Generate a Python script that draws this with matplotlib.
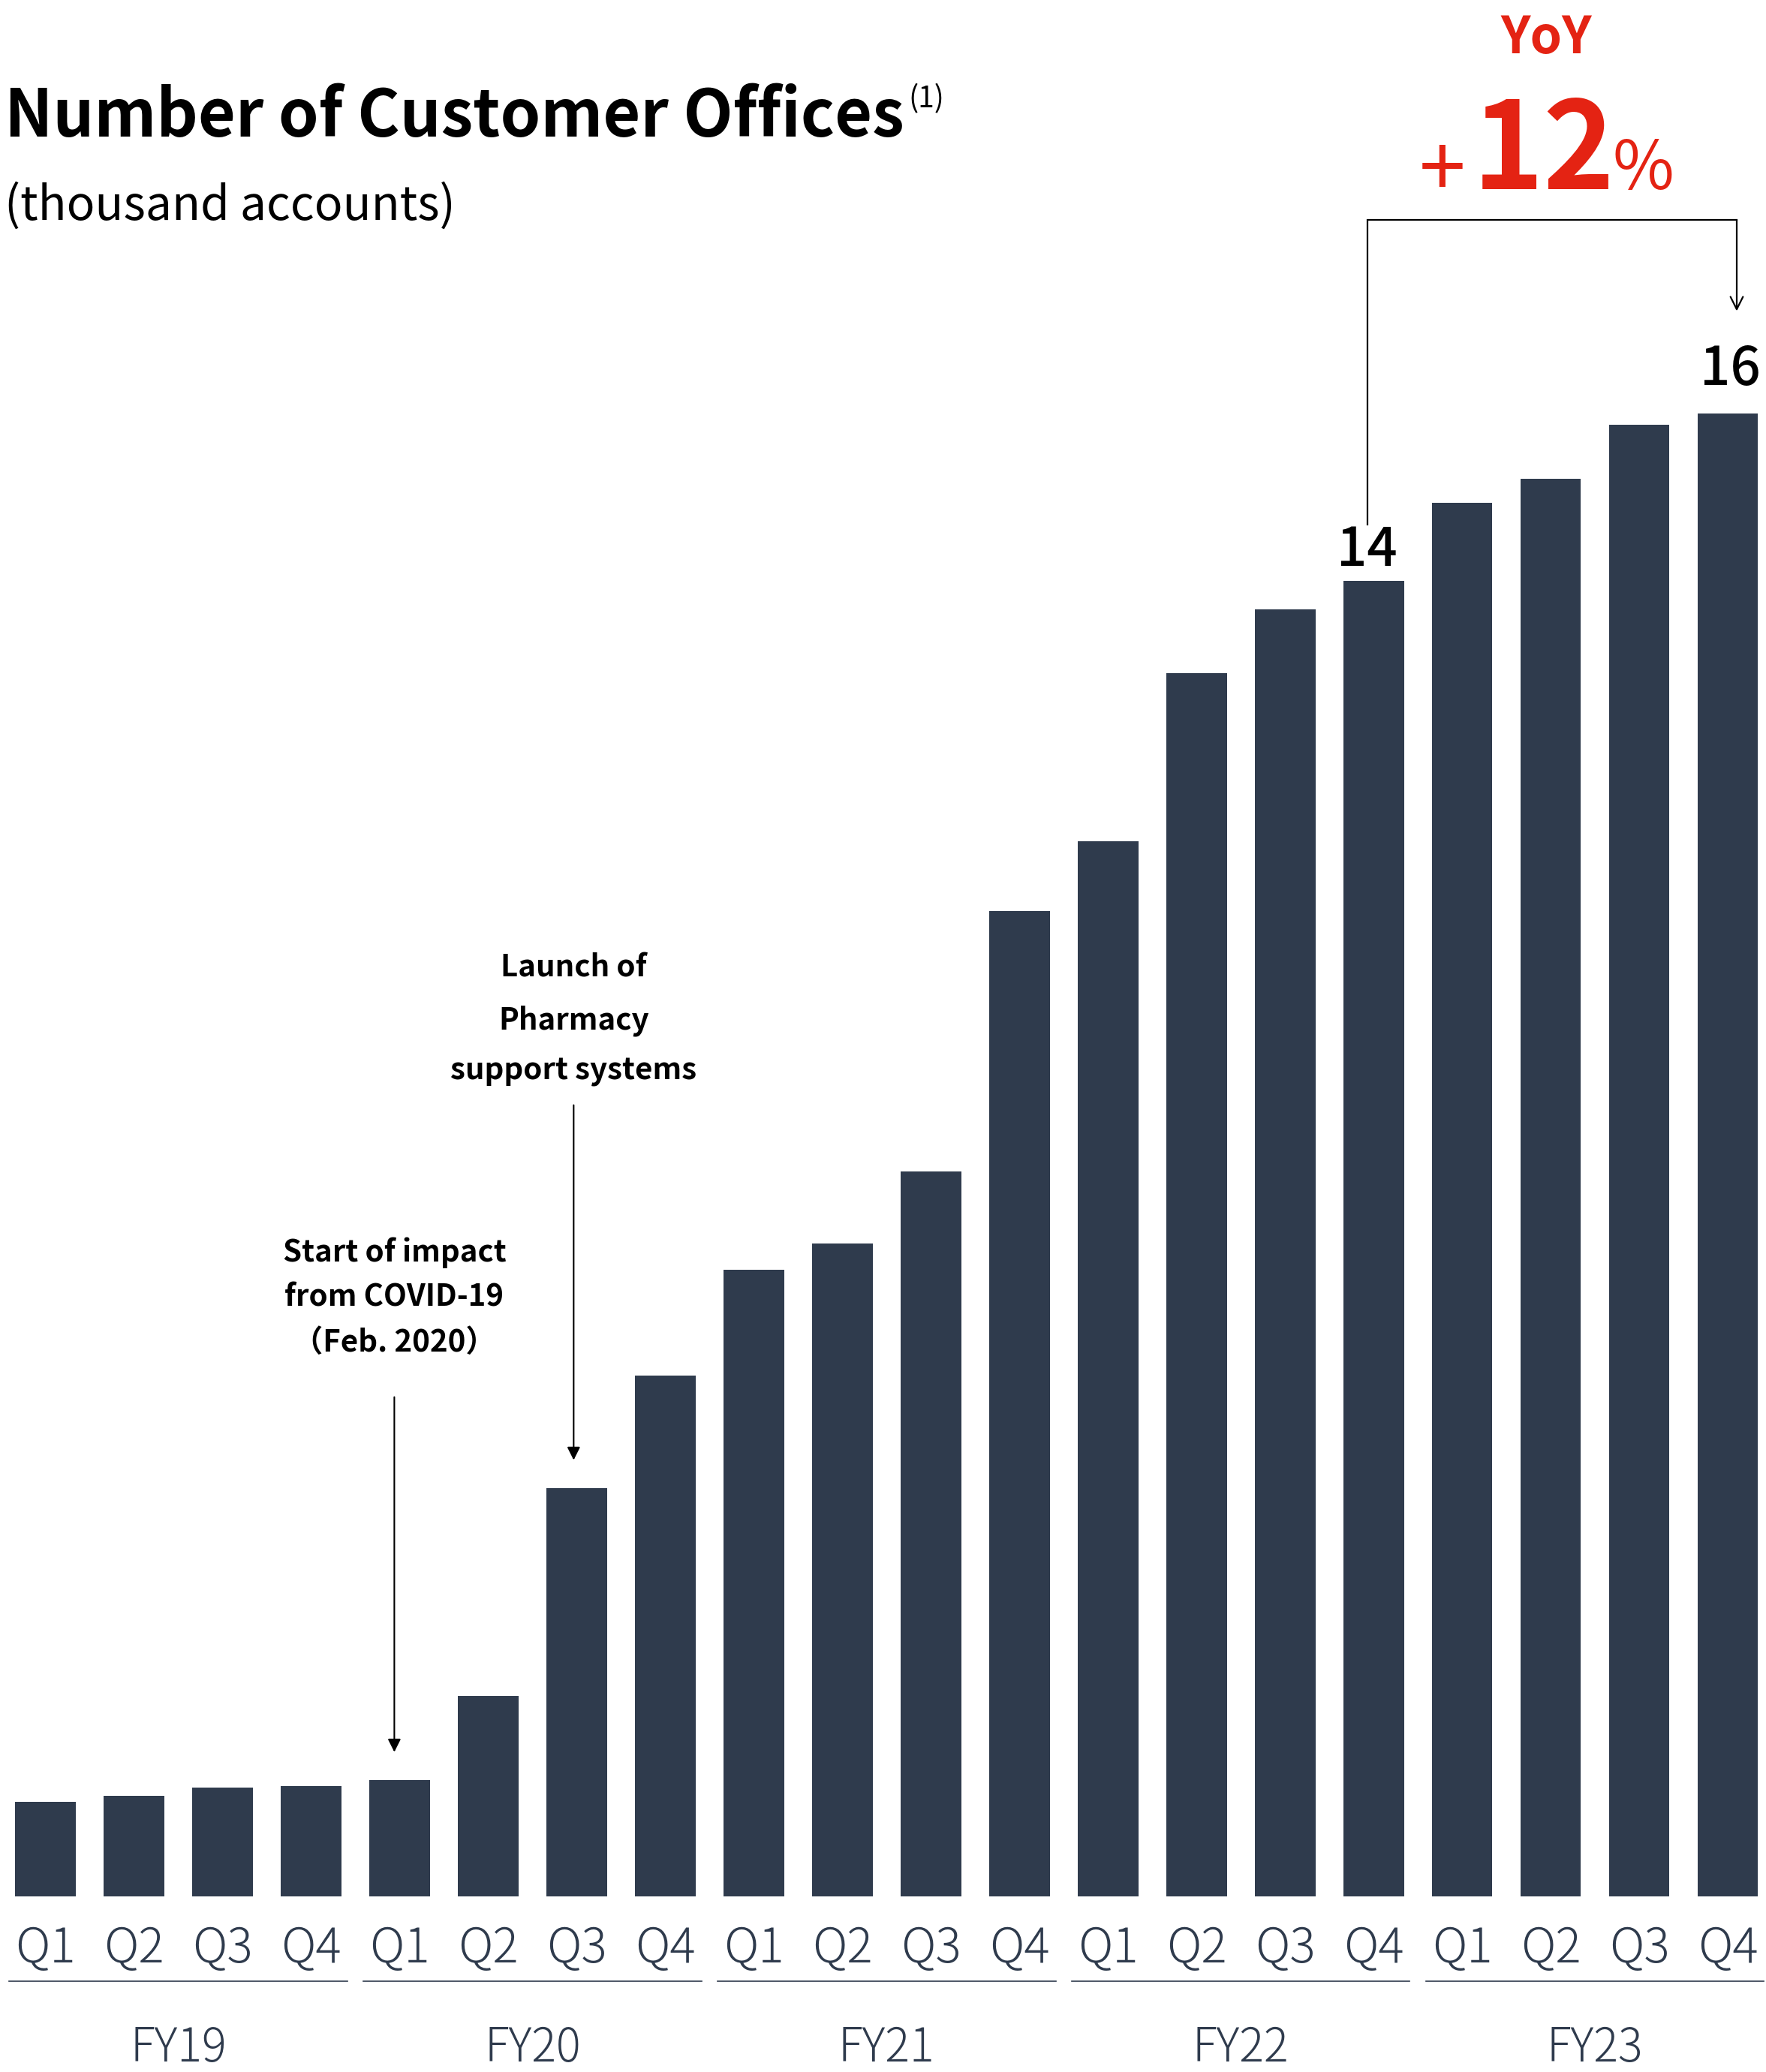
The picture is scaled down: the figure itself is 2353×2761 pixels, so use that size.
import numpy as np
import matplotlib.pyplot as plt
import matplotlib.transforms as mtransforms
from matplotlib.lines import Line2D

plt.rcParams['font.family'] = ['Noto Sans CJK JP', 'DejaVu Sans']

# quarterly customer offices, thousand accounts
quarters = ['Q1', 'Q2', 'Q3', 'Q4']
fiscal_years = ['FY19', 'FY20', 'FY21', 'FY22', 'FY23']
offices = [1.01, 1.08, 1.17, 1.18,
           1.25, 2.15, 4.38, 5.58,
           6.72, 7.00, 7.77, 10.56,
           11.31, 13.11, 13.80, 14.10,
           14.94, 15.20, 15.78, 15.90]
yoy_growth = 12
covid_text = ['Start of impact', 'from COVID-19', '（Feb. 2020）']
launch_text = ['Launch of', 'Pharmacy', 'support systems']

BAR = '#2f3b4d'
RED = '#e42313'

W, H = 2353, 2761
PXU = 124.3          # pixels per thousand accounts
BASE = 2527          # pixel row of the bar baseline


def fx(px):
    return px / W


def fy(py):
    return 1 - py / H


fig = plt.figure(figsize=(W / 100, H / 100), dpi=100)
ax = fig.add_axes([0, fy(BASE), 1, BASE / H])
x = np.arange(len(offices))
ax.bar(x, offices, width=0.685, color=BAR)
ax.set_xlim(-60.5 / 118, len(offices) - 1 + (W - 2302) / 118)
ax.set_ylim(0, BASE / PXU)
ax.axis('off')

# px offsets -> data units
dy = 1 / PXU
dx = 1 / 118

# quarter / fiscal-year axis
blend = mtransforms.blended_transform_factory(ax.transData, fig.transFigure)
for i in x:
    ax.text(i, fy(2615), quarters[i % 4], transform=blend, ha='center', va='baseline',
            fontsize=46, fontweight='light', color=BAR)
for g, fy_name in enumerate(fiscal_years):
    ax.add_line(Line2D([4 * g - 0.41, 4 * g + 3.41], [fy(2640), fy(2640)], transform=blend,
                       color=BAR, lw=1.2, clip_on=False))
    ax.text(4 * g + 1.5, fy(2747), fy_name, transform=blend, ha='center', va='baseline',
            fontsize=44, fontweight='light', color=BAR)

# value labels on FY22 Q4 and FY23 Q4
for i, gap, shift in [(15, 20, -9), (19, 38, 3)]:
    ax.text(i + shift * dx, offices[i] + gap * dy, f'{offices[i]:.0f}', ha='center', va='baseline',
            fontsize=51, fontweight='medium', color='black')

# event arrows
arrow_len = 473 * dy
tip_gap = 37 * dy
events = [(4, -7, covid_text, [181, 121, 61]),
          (6, -4, launch_text, [171, 101, 34])]
for i, shift, lines, rises in events:
    xa = i + shift * dx
    tip = offices[i] + tip_gap
    tail = tip + arrow_len
    ax.annotate('', xy=(xa, tip), xytext=(xa, tail),
                arrowprops=dict(arrowstyle='-|>', lw=1.5, color='black',
                                mutation_scale=26, shrinkA=0, shrinkB=0))
    for line, rise in zip(lines, rises):
        ax.text(xa, tail + rise * dy, line, ha='center', va='baseline',
                fontsize=29, fontweight='bold', color='black')

# YoY bracket from FY22 Q4 to FY23 Q4
x0 = 15 - 8 * dx
x1 = 19 + 12 * dx
top = (BASE - 293) * dy
ax.plot([x0, x0, x1], [offices[15] + 75 * dy, top, top], color='black', lw=1.6,
        solid_joinstyle='miter', clip_on=False)
ax.annotate('', xy=(x1, offices[19] + 136 * dy), xytext=(x1, top),
            arrowprops=dict(arrowstyle='->', lw=1.6, color='black',
                            mutation_scale=30, shrinkA=0, shrinkB=0))

fig.text(fx(2060), fy(71), 'YoY', ha='center', va='baseline', fontsize=49,
         fontweight='bold', color=RED)
fig.text(fx(2057), fy(252), f'{yoy_growth}', ha='center', va='baseline', fontsize=116,
         fontweight='bold', color=RED)
fig.text(fx(1922), fy(262), '+', ha='center', va='baseline', fontsize=80,
         fontweight='normal', color=RED)
fig.text(fx(2148), fy(252), '%', ha='left', va='baseline', fontsize=64,
         fontweight='normal', color=RED)

# title block
title = fig.text(fx(6), fy(182), 'Number of Customer Offices', ha='left', va='baseline',
                 fontsize=62, fontweight='bold', color='black')
renderer = fig.canvas.get_renderer()
bb = title.get_window_extent(renderer)
fig.text(bb.x1 / W + fx(6), fy(143), '(1)', ha='left', va='baseline', fontsize=28,
         color='black')
fig.text(fx(6), fy(293), '(thousand accounts)', ha='left', va='baseline', fontsize=45,
         fontweight='normal', color='black')

fig.savefig('out.png', dpi=100, facecolor='white')
